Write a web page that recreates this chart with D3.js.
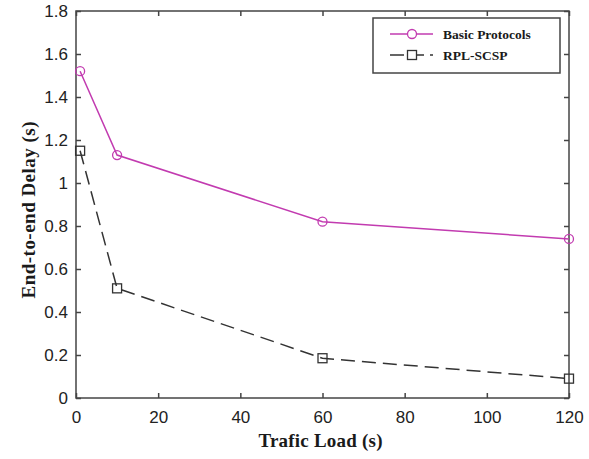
<!DOCTYPE html>
<html>
<head>
<meta charset="utf-8">
<script src="https://cdn.jsdelivr.net/npm/d3@7"></script>
<style>
  body { margin: 0; background: #fff; }
  svg { display: block; }
</style>
</head>
<body>
<svg id="chart" width="589" height="459"></svg>
<script>
// data
const trafficLoad = [1, 10, 60, 120];
const basicDelay = [1.52, 1.13, 0.82, 0.74];
const rplDelay = [1.15, 0.51, 0.185, 0.09];
const xTicks = [0, 20, 40, 60, 80, 100, 120];
const yTicks = [0, 0.2, 0.4, 0.6, 0.8, 1, 1.2, 1.4, 1.6, 1.8];
const seriesNames = ["Basic Protocols", "RPL-SCSP"];

const svg = d3.select("#chart");

const plotLeft = 76, plotRight = 569, plotTop = 11, plotBottom = 398;
const axisColor = "#444";
const pink = "#c23bb0";
const dark = "#333";

const x = d3.scaleLinear().domain([0, 120]).range([plotLeft, plotRight]);
const y = d3.scaleLinear().domain([0, 1.8]).range([plotBottom, plotTop]);

// frame box
svg.append("rect")
    .attr("x", plotLeft)
    .attr("y", plotTop)
    .attr("width", plotRight - plotLeft)
    .attr("height", plotBottom - plotTop)
    .attr("fill", "none")
    .attr("stroke", axisColor)
    .attr("stroke-width", 1.5);

const tickFont = "'Liberation Sans', Arial, sans-serif";

// bottom axis, ticks point inward
svg.append("g")
    .attr("transform", `translate(0,${plotBottom})`)
    .call(d3.axisBottom(x).tickValues(xTicks).tickSizeInner(-5).tickSizeOuter(0).tickPadding(13).tickFormat(d3.format("d")));

// top axis, ticks only
svg.append("g")
    .attr("transform", `translate(0,${plotTop})`)
    .call(d3.axisTop(x).tickValues(xTicks).tickSizeInner(-5).tickSizeOuter(0).tickFormat(""));

// left axis
svg.append("g")
    .attr("transform", `translate(${plotLeft},0)`)
    .call(d3.axisLeft(y).tickValues(yTicks).tickSizeInner(-5).tickSizeOuter(0).tickPadding(8).tickFormat(d => d3.format("~g")(d)));

// right axis, ticks only
svg.append("g")
    .attr("transform", `translate(${plotRight},0)`)
    .call(d3.axisRight(y).tickValues(yTicks).tickSizeInner(-5).tickSizeOuter(0).tickFormat(""));

svg.selectAll(".domain").remove();
svg.selectAll(".tick line").attr("stroke", axisColor).attr("stroke-width", 1.5);
svg.selectAll(".tick text")
    .attr("fill", "#222")
    .style("font-family", tickFont)
    .style("font-size", "17px");

// axis titles
svg.append("text")
    .attr("x", (plotLeft + plotRight) / 2 - 2)
    .attr("y", 447)
    .attr("text-anchor", "middle")
    .attr("textLength", 124)
    .style("font-family", "'Liberation Serif', 'Times New Roman', serif")
    .style("font-weight", "bold")
    .style("font-size", "19px")
    .attr("fill", "#1a1a1a")
    .text("Trafic Load (s)");

svg.append("text")
    .attr("transform", "translate(35,210) rotate(-90)")
    .attr("text-anchor", "middle")
    .attr("textLength", 177)
    .style("font-family", "'Liberation Serif', 'Times New Roman', serif")
    .style("font-weight", "bold")
    .style("font-size", "19px")
    .attr("fill", "#1a1a1a")
    .text("End-to-end Delay (s)");

// lines
const line = d3.line()
    .x(d => x(d[0]))
    .y(d => y(d[1]));

const basicPts = trafficLoad.map((t, i) => [t, basicDelay[i]]);
const rplPts = trafficLoad.map((t, i) => [t, rplDelay[i]]);

svg.append("path")
    .datum(basicPts)
    .attr("d", line)
    .attr("fill", "none")
    .attr("stroke", pink)
    .attr("stroke-width", 1.5);

svg.append("path")
    .datum(rplPts)
    .attr("d", line)
    .attr("fill", "none")
    .attr("stroke", dark)
    .attr("stroke-width", 1.5)
    .attr("stroke-dasharray", "14,7");

svg.selectAll(".basic-marker")
    .data(basicPts)
    .enter()
    .append("circle")
    .attr("class", "basic-marker")
    .attr("cx", d => x(d[0]))
    .attr("cy", d => y(d[1]))
    .attr("r", 4.5)
    .attr("fill", "none")
    .attr("stroke", pink)
    .attr("stroke-width", 1.3);

svg.selectAll(".rpl-marker")
    .data(rplPts)
    .enter()
    .append("rect")
    .attr("class", "rpl-marker")
    .attr("x", d => x(d[0]) - 4.5)
    .attr("y", d => y(d[1]) - 4.5)
    .attr("width", 9)
    .attr("height", 9)
    .attr("fill", "none")
    .attr("stroke", dark)
    .attr("stroke-width", 1.3);

// legend
const legend = svg.append("g");
legend.append("rect")
    .attr("x", 373)
    .attr("y", 18)
    .attr("width", 187)
    .attr("height", 55)
    .attr("fill", "#fff")
    .attr("stroke", axisColor)
    .attr("stroke-width", 1.5);

const legendRows = legend.selectAll(".legend")
    .data(seriesNames)
    .enter()
    .append("g")
    .attr("class", "legend")
    .attr("transform", (d, i) => `translate(0,${34 + i * 21})`);

legendRows.append("line")
    .attr("x1", 390)
    .attr("x2", 433)
    .attr("y1", 0)
    .attr("y2", 0)
    .attr("stroke", (d, i) => i === 0 ? pink : dark)
    .attr("stroke-width", 1.5)
    .attr("stroke-dasharray", (d, i) => i === 0 ? null : "14,6");

legendRows.filter((d, i) => i === 0).append("circle")
    .attr("cx", 412)
    .attr("cy", 0)
    .attr("r", 4.5)
    .attr("fill", "#fff")
    .attr("stroke", pink)
    .attr("stroke-width", 1.3);

legendRows.filter((d, i) => i === 1).append("rect")
    .attr("x", 407.5)
    .attr("y", -4.5)
    .attr("width", 9)
    .attr("height", 9)
    .attr("fill", "#fff")
    .attr("stroke", dark)
    .attr("stroke-width", 1.3);

legendRows.append("text")
    .attr("x", 443)
    .attr("y", 4.5)
    .style("font-family", "'Liberation Serif', 'Times New Roman', serif")
    .style("font-weight", "bold")
    .style("font-size", "13.5px")
    .attr("fill", "#1a1a1a")
    .text(d => d);
</script>
</body>
</html>
